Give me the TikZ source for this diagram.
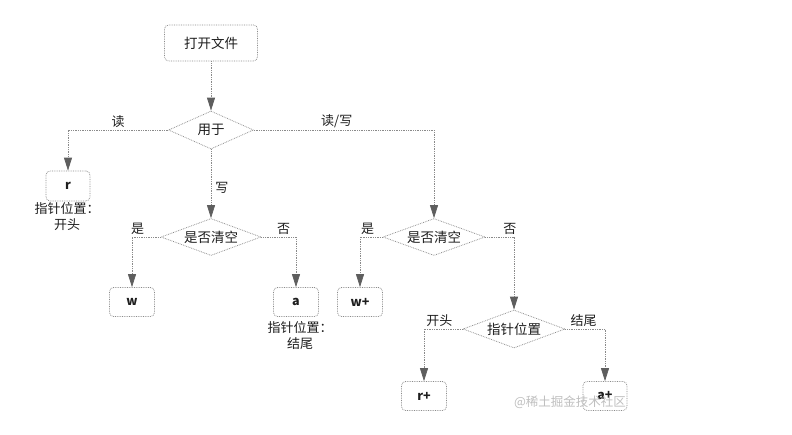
\documentclass[tikz,border=0pt]{standalone}
\usepackage{fontspec}
\setmainfont{Noto Sans CJK SC}
\usetikzlibrary{shapes.geometric,arrows.meta}
\definecolor{linegray}{HTML}{8A8A8A}
\definecolor{tipgray}{HTML}{5E5E5E}
\definecolor{txt}{HTML}{1E1E1E}
\tikzset{
  box/.style={rectangle, rounded corners=4pt, draw=linegray, densely dotted, line width=0.75pt,
    inner sep=0pt, text=txt, font=\fontsize{12.5}{14}\selectfont\bfseries},
  decision/.style={diamond, draw=linegray, densely dotted, line width=0.75pt, aspect=2.7,
    inner sep=0pt, text=txt, font=\fontsize{13.5}{15}\selectfont},
  conn/.style={draw=linegray, densely dotted, line width=0.75pt,
    -{Triangle[length=13pt,width=8pt,fill=tipgray,color=tipgray]}},
  lbl/.style={text=txt, font=\fontsize{13}{15}\selectfont, inner sep=2pt},
  note/.style={text=txt, font=\fontsize{13}{16}\selectfont, align=center, inner sep=2pt}
}
\begin{document}
\begin{tikzpicture}[x=1pt,y=-1pt]
\useasboundingbox[fill=white] (0,0) rectangle (792,434);
% nodes
\node[box, minimum width=93pt, minimum height=36pt, font=\fontsize{13.5}{15}\selectfont] (open) at (211,43) {打开文件};
\node[decision, minimum width=85pt, minimum height=38pt] (use) at (211,130) {用于};
\node[box, minimum width=44pt, minimum height=30pt] (r) at (68,186) {r};
\node[decision, minimum width=100pt, minimum height=37pt] (clr1) at (211,237) {是否清空};
\node[decision, minimum width=102pt, minimum height=37pt] (clr2) at (434,237) {是否清空};
\node[box, minimum width=45pt, minimum height=29pt] (w) at (132,302) {w};
\node[box, minimum width=45pt, minimum height=29pt] (a) at (296,302) {a};
\node[box, minimum width=45pt, minimum height=29pt] (wp) at (360,302) {w+};
\node[decision, minimum width=102pt, minimum height=38pt] (pos) at (514,329) {指针位置};
\node[box, minimum width=45pt, minimum height=29pt] (rp) at (424,396) {r+};
\node[box, minimum width=44pt, minimum height=29pt] (ap) at (605,396) {a+};
% notes
\node[note, anchor=north] (rnote) at ([xshift=-1pt,yshift=1pt]r.south) {指针位置：\\开头};
\node[note, anchor=north] (anote) at ([xshift=4pt,yshift=-2pt]a.south) {指针位置：\\结尾};
% connectors
\draw[conn] (open) -- (use);
\draw[conn] (use.west) -| (r) node[lbl, pos=0.25, above] {读};
\draw[conn] (use.east) -| (clr2) node[lbl, pos=0.23, above] {读/写};
\draw[conn] (use) -- (clr1) node[lbl, midway, right, xshift=2pt, yshift=-4pt] {写};
\draw[conn] (clr1.west) -| (w) node[lbl, pos=0.4, above] {是};
\draw[conn] (clr1.east) -| (a) node[lbl, pos=0.32, above] {否};
\draw[conn] (clr2.west) -| (wp) node[lbl, pos=0.33, above] {是};
\draw[conn] (clr2.east) -| (pos) node[lbl, pos=0.43, above] {否};
\draw[conn] (pos.west) -| (rp) node[lbl, pos=0.3, above] {开头};
\draw[conn] (pos.east) -| (ap) node[lbl, pos=0.23, above] {结尾};
% watermark
\node[text=gray!50, font=\fontsize{12.5}{14}\selectfont, inner sep=0pt] (wm) at (570,402) {@稀土掘金技术社区};
\end{tikzpicture}
\end{document}
